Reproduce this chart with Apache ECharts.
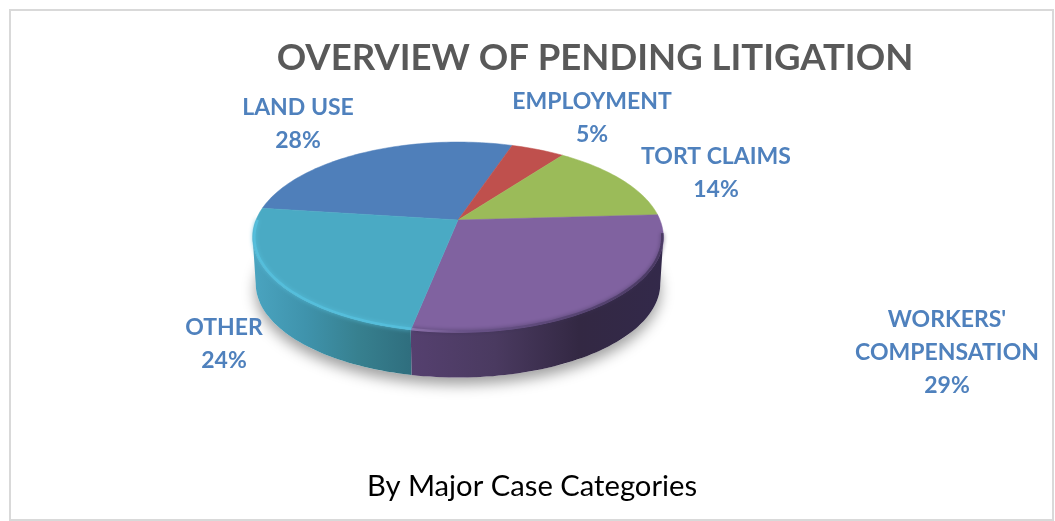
<!DOCTYPE html>
<html><head><meta charset="utf-8">
<style>html,body{margin:0;padding:0;background:#fff}#c{width:1055px;height:521px}</style>
<script src="https://cdn.jsdelivr.net/npm/echarts@6/dist/echarts.min.js"></script>
</head><body><div id="c"></div>
<script>
const categories = ['LAND USE', 'EMPLOYMENT', 'TORT CLAIMS', "WORKERS'\nCOMPENSATION", 'OTHER'];
const percents = [28, 5, 14, 29, 24];
const titleText = 'OVERVIEW OF PENDING LITIGATION';
const subtitleText = 'By Major Case Categories';

const topColors = ['#4f7fba', '#bf504d', '#9bbb59', '#8062a0', '#4aaac4'];
const wallStops = [
  ['#3a5f8c', '#3a5f8c'], ['#8c3a38', '#8c3a38'], ['#6f8840', '#6f8840'],
  ['#55406f', '#4a3a60', '#332843', '#33294a'],
  ['#4aa4c0', '#3f93ac', '#37808f', '#2f6e7e']
];
const labelAt = [[298, 124], [592, 118], [716, 173], [947, 353], [224, 344]];

const P = {cx: 458, cy: 220, a: 202, b: 92, k: 0.18, depth: 47, baseScale: 0.985, start: -172.5};
const rad = d => d * Math.PI / 180;
function pt(deg, scale, dy) {
  const u = Math.cos(rad(deg)), v = Math.sin(rad(deg)), w = 1 - P.k * v;
  return [P.cx + scale * P.a * u / w, P.cy + dy + scale * P.b * v / w];
}
function arc(from, to, scale, dy) {
  const out = [], n = Math.max(2, Math.ceil(Math.abs(to - from) / 1.5));
  for (let i = 0; i <= n; i++) out.push(pt(from + (to - from) * i / n, scale, dy));
  return out;
}
function grad(stops) {
  return new echarts.graphic.LinearGradient(0, 0, 1, 0,
    stops.map((c, i) => ({offset: i / Math.max(1, stops.length - 1), color: c})));
}
const total = percents.reduce((s, x) => s + x, 0);
const FONT_LABEL = 'bold 23px Lato';
const SILHOUETTE = Math.asin(P.k) * 180 / Math.PI;

const chart = echarts.init(document.getElementById('c'), null, {renderer: 'canvas'});
chart.setOption({
  animation: false,
  backgroundColor: '#ffffff',
  title: [
    {text: titleText, left: 590, top: 35, textAlign: 'center',
     textStyle: {fontFamily: 'Lato', fontWeight: 'bold', fontSize: 36.5, color: '#595959'}},
    {text: subtitleText, left: 527, top: 467, textAlign: 'center',
     textStyle: {fontFamily: 'Lato', fontWeight: 'normal', fontSize: 29.2, color: '#000000'}}
  ],
  graphic: [{type: 'rect', shape: {x: 10, y: 10, width: 1043, height: 510},
    style: {fill: 'none', stroke: '#d9d9d9', lineWidth: 2}, silent: true}],
  series: [{
    type: 'custom',
    coordinateSystem: 'none',
    data: percents.map(p => [p]),
    renderItem(params, api) {
      const i = params.dataIndex, kids = [];
      let before = 0;
      for (let j = 0; j < i; j++) before += percents[j];
      const from = P.start + before / total * 360;
      const to = from + api.value(0) / total * 360;
      if (i === 0) {
        kids.push({type: 'polygon', shape: {points: arc(0, 360, P.baseScale, P.depth)},
          style: {fill: '#ffffff', shadowBlur: 14, shadowColor: 'rgba(0,0,0,0.38)', shadowOffsetY: 7}});
      }
      const wf = Math.max(from, SILHOUETTE), wt = Math.min(to, 180 - SILHOUETTE);
      if (wt > wf) {
        const pts = arc(wf, wt, 1, 0).concat(arc(wt, wf, P.baseScale, P.depth));
        kids.push({type: 'polygon', shape: {points: pts},
          style: {fill: grad(wallStops[i]), stroke: null}});
      }
      kids.push({type: 'polygon',
        shape: {points: [[P.cx, P.cy]].concat(arc(from, to, 1, 0))},
        style: {fill: topColors[i], stroke: topColors[i], lineWidth: 0.5}});
      if (i === 4) {
        kids.push({type: 'polyline', shape: {points: arc(from, 180, 0.992, 0)},
          style: {fill: null, stroke: '#55bedb', lineWidth: 2.5, shadowBlur: 4, shadowColor: '#55bedb'}});
      }
      if (i === 3) {
        kids.push({type: 'polyline', shape: {points: arc(to, 8, 0.995, 0)},
          style: {fill: null, lineWidth: 2.5, shadowBlur: 4, shadowColor: 'rgba(60,48,85,0.7)',
            stroke: new echarts.graphic.LinearGradient(0, 0, 1, 0, [
              {offset: 0, color: '#8f74ad'}, {offset: 0.2, color: '#6a5389'},
              {offset: 1, color: '#4a3a63'}])}});
      }
      kids.push({type: 'text', style: {
        x: labelAt[i][0], y: labelAt[i][1], align: 'center', verticalAlign: 'middle',
        text: categories[i] + '\n' + percents[i] + '%', font: FONT_LABEL, lineHeight: 33,
        fill: '#4f81bd'}});
      return {type: 'group', children: kids};
    }
  }]
});
</script></body></html>
